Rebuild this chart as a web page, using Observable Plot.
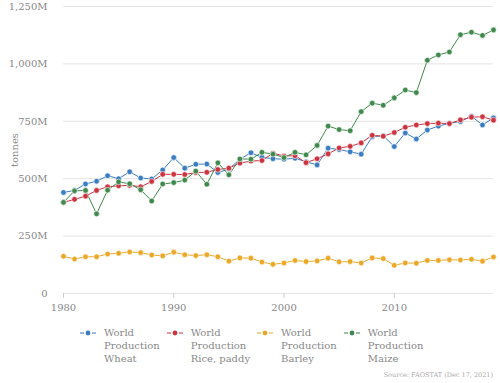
<!DOCTYPE html>
<html>
<head>
<meta charset="utf-8">
<script src="https://cdn.jsdelivr.net/npm/d3@7"></script>
<script src="https://cdn.jsdelivr.net/npm/@observablehq/plot@0.6"></script>
<style>
  html, body { margin: 0; padding: 0; background: #fff; }
  body { width: 500px; height: 383px; overflow: hidden; font-family: "DejaVu Serif", serif; position: relative; }
  #legend { position: absolute; left: 80px; top: 326px; display: flex; gap: 7px; }
  .item { display: flex; align-items: flex-start; }
  .item svg { margin-top: 3px; margin-right: 8px; flex: none; }
  .item span { font-size: 10px; line-height: 13px; color: #888; }
  #source { position: absolute; right: 7px; top: 371px; font-size: 6.5px; color: #aaa; }
</style>
</head>
<body>
<div id="chart"></div>
<div id="legend"></div>
<div id="source">Source: FAOSTAT (Dec 17, 2021)</div>
<script>
const years = d3.range(1980, 2020);
const seriesNames = ["World Production Wheat", "World Production Rice, paddy", "World Production Barley", "World Production Maize"];
const seriesLabels = [["World", "Production", "Wheat"], ["World", "Production", "Rice, paddy"], ["World", "Production", "Barley"], ["World", "Production", "Maize"]];
const seriesColors = ["#3b7dc0", "#cc3340", "#eba827", "#40894d"];
const yTicks = [0, 250e6, 500e6, 750e6, 1000e6, 1250e6];
const xTicks = [1980, 1990, 2000, 2010];

// million tonnes
const wheat = [440, 449, 477, 489, 513, 500, 530, 503, 499, 538, 592, 546, 563, 564, 527, 542, 585, 613, 593, 587, 585, 589, 574, 560, 633, 627, 617, 607, 683, 687, 640, 699, 673, 712, 729, 741, 749, 772, 734, 765];
const rice = [397, 410, 424, 449, 465, 469, 471, 465, 488, 519, 519, 518, 527, 528, 540, 546, 568, 577, 579, 611, 599, 600, 570, 587, 608, 634, 641, 656, 689, 685, 701, 724, 734, 740, 742, 740, 756, 768, 770, 755];
const barley = [162, 150, 160, 160, 172, 175, 181, 178, 168, 164, 180, 169, 165, 169, 160, 141, 155, 154, 137, 127, 133, 144, 139, 142, 154, 138, 139, 133, 155, 152, 123, 133, 132, 144, 144, 147, 146, 149, 141, 159];
const maize = [397, 447, 449, 347, 450, 486, 478, 452, 403, 477, 483, 494, 533, 476, 569, 517, 586, 585, 615, 607, 592, 615, 604, 645, 729, 714, 709, 792, 829, 820, 852, 886, 875, 1016, 1039, 1052, 1127, 1138, 1124, 1148];

const seriesValues = [wheat, rice, barley, maize];
const data = [];
seriesNames.forEach((name, i) => {
  years.forEach((yr, j) => data.push({series: name, year: yr, value: seriesValues[i][j] * 1e6}));
});

const chart = Plot.plot({
  width: 500,
  height: 318,
  marginLeft: 63,
  marginRight: 7,
  marginTop: 6,
  marginBottom: 25,
  style: {fontFamily: "DejaVu Serif, serif", fontSize: "10px", color: "#888", background: "#fff"},
  x: {domain: [1980, 2019], ticks: xTicks, tickFormat: d => String(d), label: null, tickSize: 5, tickPadding: 5},
  y: {domain: [0, 1250e6], ticks: yTicks, tickFormat: d => d === 0 ? "0" : d3.format(",")(d / 1e6) + "M",
      label: "tonnes", labelAnchor: "center", labelArrow: "none", labelOffset: 53, tickSize: 0, tickPadding: 16},
  color: {domain: seriesNames, range: seriesColors},
  marks: [
    Plot.gridY(yTicks, {stroke: "#e4e4e4", strokeOpacity: 1}),
    Plot.axisX({ticks: xTicks, tickFormat: d => String(d), tickSize: 5, tickPadding: 5, stroke: "#ccc", label: null}),
    Plot.axisY({ticks: yTicks, tickFormat: d => d === 0 ? "0" : d3.format(",")(d / 1e6) + "M", tickSize: 0, tickPadding: 16, label: "tonnes", labelAnchor: "center", labelArrow: "none", labelOffset: 53}),
    Plot.lineY(data, {x: "year", y: "value", stroke: "series", strokeWidth: 1}),
    Plot.dot(data, {x: "year", y: "value", fill: "series", r: 2.8, stroke: "#fff", strokeWidth: 0.6})
  ]
});
document.getElementById("chart").appendChild(chart);

const legend = document.getElementById("legend");
seriesNames.forEach((name, i) => {
  const item = document.createElement("div");
  item.className = "item";
  item.innerHTML = `<svg width="16" height="8"><line x1="0" y1="4" x2="16" y2="4" stroke="${seriesColors[i]}" stroke-width="1.2" stroke-dasharray="4,2"/><circle cx="8" cy="4" r="2.4" fill="${seriesColors[i]}"/></svg><span>${seriesLabels[i].join("<br>")}</span>`;
  legend.appendChild(item);
});
</script>
</body>
</html>
